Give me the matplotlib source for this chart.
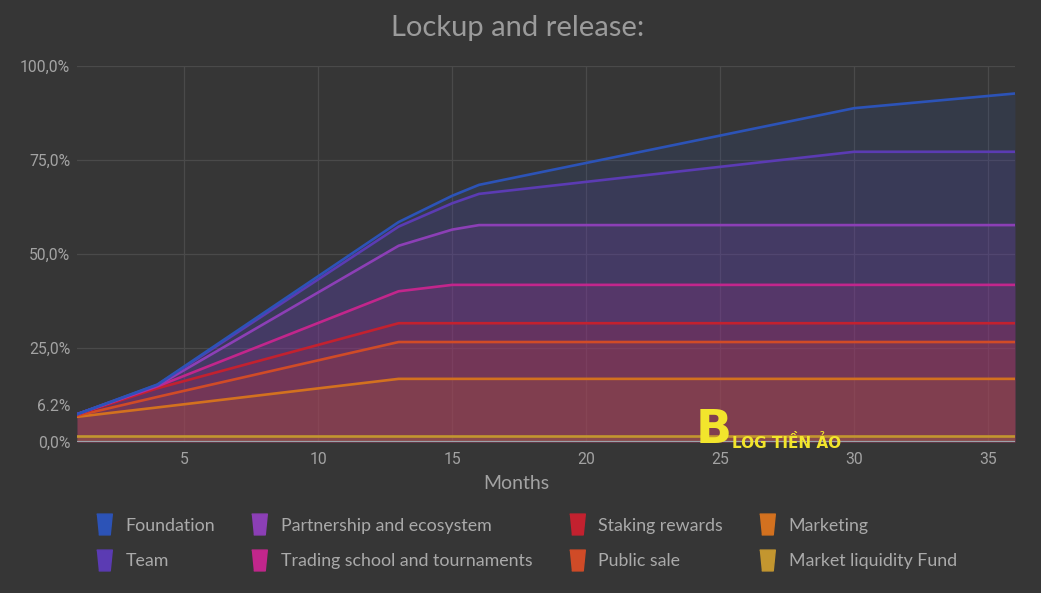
import numpy as np
import matplotlib

matplotlib.use("Agg")
matplotlib.rcParams["font.family"] = ["Lato", "DejaVu Sans"]

import matplotlib.pyplot as plt
import matplotlib.transforms as mtransforms
from matplotlib.lines import Line2D

# months where the release curves change slope
months = [1, 4, 13, 15, 16, 30, 36]

# share released per allocation (%), bottom of the stack first
series_names = [
    "Market liquidity Fund",
    "Marketing",
    "Public sale",
    "Staking rewards",
    "Trading school and tournaments",
    "Partnership and ecosystem",
    "Team",
    "Foundation",
]
market_liquidity = [1.6, 1.6, 1.6, 1.6, 1.6, 1.6, 1.6]
marketing = [5.1, 7.6, 15.2, 15.2, 15.2, 15.2, 15.2]
public_sale = [0.3, 2.8, 9.8, 9.8, 9.8, 9.8, 9.8]
staking = [0.3, 2.3, 5.0, 5.0, 5.0, 5.0, 5.0]
trading = [0.1, 0.5, 8.5, 10.2, 10.2, 10.2, 10.2]
partnership = [0.0, 0.2, 12.1, 14.7, 15.9, 15.9, 15.9]
team = [0.0, 0.2, 5.1, 7.0, 8.3, 19.5, 19.5]
foundation = [0.0, 0.1, 1.2, 2.0, 2.4, 11.6, 15.5]

colors = ["#c3962f", "#d3711f", "#d04b27", "#c3212f",
          "#c2268c", "#8c3fb6", "#5b3bb3", "#2c53b7"]

legend_order = ["Foundation", "Team", "Partnership and ecosystem",
                "Trading school and tournaments", "Staking rewards",
                "Public sale", "Marketing", "Market liquidity Fund"]

yticks = [0, 6.2, 25, 50, 75, 100]
ytick_labels = ["0,0%", "6.2%", "25,0%", "50,0%", "75,0%", "100,0%"]
xticks = [5, 10, 15, 20, 25, 30, 35]

bg = "#363636"
text_col = "#a3a3a3"

values = np.array([market_liquidity, marketing, public_sale, staking,
                   trading, partnership, team, foundation])
stacked = np.cumsum(values, axis=0)

fig = plt.figure(figsize=(10.41, 5.93), dpi=100, facecolor=bg)
ax = fig.add_axes([0.074, 0.2546, 0.901, 0.634], facecolor=bg)

for i in range(len(series_names) - 1, -1, -1):
    ax.fill_between(months, 0, stacked[i], color=colors[i], alpha=0.14,
                    linewidth=0, zorder=2)
for i in range(len(series_names)):
    ax.plot(months, stacked[i], color=colors[i], lw=1.9, zorder=3)
ax.axhline(0, color="#9aa3aa", lw=1.6, zorder=4)

ax.set_xlim(1, 36)
ax.set_ylim(0, 100)
ax.set_xticks(xticks)
ax.set_yticks(yticks)
ax.set_yticklabels(ytick_labels)
for spine in ax.spines.values():
    spine.set_visible(False)
ax.tick_params(length=0, colors=text_col)
ax.tick_params(axis="y", pad=5)
ax.tick_params(axis="x", pad=7)
for lab in ax.get_yticklabels() + ax.get_xticklabels():
    lab.set_fontfamily(["Roboto", "DejaVu Sans"])
    lab.set_fontsize(11.3)
# the 6.2% label sits a little above its value in the original
lab62 = ax.get_yticklabels()[1]
lab62.set_transform(lab62.get_transform() +
                    mtransforms.ScaledTranslation(0, 0.14, fig.dpi_scale_trans))

ax.grid(True, color="#4a4a4a", lw=0.9, zorder=0)
gl = ax.get_ygridlines()
gl[0].set_visible(False)
gl[1].set_visible(False)

ax.set_xlabel("Months", color=text_col, fontsize=14)
ax.xaxis.set_label_coords(0.468, -0.087)
fig.text(0.497, 0.953, "Lockup and release:", ha="center", va="center",
         color="#9b9b9b", fontsize=21)

# legend with cup-shaped markers
cup = [(-0.75, 1), (0.75, 1), (0.55, -1), (-0.55, -1)]
handles = []
for name in legend_order:
    c = colors[series_names.index(name)]
    handles.append(Line2D([], [], linestyle="none", marker=cup,
                          markersize=15, markerfacecolor=c,
                          markeredgecolor=c, label=name))
leg = fig.legend(handles=handles, ncol=4, loc="upper left",
                 bbox_to_anchor=(0.083, 0.142), frameon=False, fontsize=12.8,
                 handlelength=0.95, handletextpad=0.75, columnspacing=2.0,
                 labelspacing=1.1, borderpad=0)
for t in leg.get_texts():
    t.set_color("#aaaaaa")

# watermark
fig.text(0.668, 0.236, "B", color="#f2e52c", fontsize=34, fontweight="bold",
         ha="left", va="bottom", family=["DejaVu Sans"])
fig.text(0.703, 0.239, "LOG TIỀN ẢO", color="#f2e52c", fontsize=11,
         fontweight="bold", ha="left", va="bottom", family=["DejaVu Sans"])

fig.savefig("out.png", dpi=100, facecolor=bg)
